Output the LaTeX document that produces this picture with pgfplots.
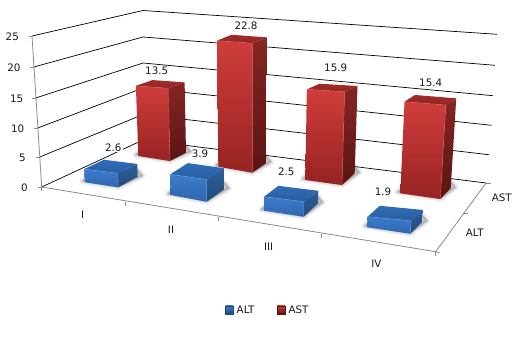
\documentclass[border=0pt]{standalone}
\usepackage{fontspec}
\setmainfont{DejaVu Sans}
\usepackage{pgfplots}
\pgfplotsset{compat=1.18}
\definecolor{grid}{HTML}{5E93DA}
\definecolor{axisc}{HTML}{8A8A8A}
\definecolor{redF}{HTML}{CF3D3B}\definecolor{redFb}{HTML}{962322}
\definecolor{redR}{HTML}{852623}\definecolor{redRb}{HTML}{5A1413}
\definecolor{redT}{HTML}{A52C29}\definecolor{redTb}{HTML}{8C2624}
\definecolor{redE}{HTML}{DA5552}
\definecolor{bluF}{HTML}{3D7DCC}\definecolor{bluFb}{HTML}{2F65AE}
\definecolor{bluR}{HTML}{2C5F9D}\definecolor{bluRb}{HTML}{214A7C}
\definecolor{bluT}{HTML}{2F6CB8}\definecolor{bluTb}{HTML}{2A5E9F}
\definecolor{bluE}{HTML}{5C97DE}
\newcommand\Poly[2]{\edef\polytmp{\noexpand\addplot[#1] coordinates {#2} --cycle;}\polytmp}
\newcommand\Seg[2]{\edef\polytmp{\noexpand\addplot[#1] coordinates {#2};}\polytmp}
% lean of the verticals: they converge on a point far below the chart
\newcommand\Lift[5]{% x, y, k -> #4 #5 : top of the bar at that corner for value \val
  \pgfmathsetmacro#4{#1+(#1-250)/3260*\val*#3}%
  \pgfmathsetmacro#5{#2-\val*#3}}
\newcommand\Bar[2]{\def\col{#1}\def\val{#2}\BarB}
% base corners front-left, front-right, back-right, each x, y, pixels per unit
\newcommand\BarB[9]{%
  \Lift{#1}{#2}{#3}\ax\ay
  \Lift{#4}{#5}{#6}\bx\by
  \Lift{#7}{#8}{#9}\cx\cy
  \pgfmathsetmacro\dx{\ax+\cx-\bx}\pgfmathsetmacro\dy{\ay+\cy-\by}%
  % shadow on the floor
  \pgfmathsetmacro\sax{#1-3}\pgfmathsetmacro\say{#2-1}%
  \pgfmathsetmacro\sbx{#4}\pgfmathsetmacro\sby{#5}%
  \pgfmathsetmacro\scx{#7+5}\pgfmathsetmacro\scy{#8-1}%
  \pgfmathsetmacro\sdx{#7}\pgfmathsetmacro\sdy{#8-7}%
  \pgfmathsetmacro\sex{#1+2}\pgfmathsetmacro\sey{#2-6}%
  \def\shadowpts{(\sax,\say)(\sbx,\sby)(\scx,\scy)(\sdx,\sdy)(\sex,\sey)}%
  \Poly{draw=black,fill=black,line join=round,line width=7pt,draw opacity=.018,fill opacity=.018}{\shadowpts}%
  \Poly{draw=black,fill=black,line join=round,line width=5.5pt,draw opacity=.03,fill opacity=.03}{\shadowpts}%
  \Poly{draw=black,fill=black,line join=round,line width=4pt,draw opacity=.04,fill opacity=.04}{\shadowpts}%
  \Poly{draw=black,fill=black,line join=round,line width=2.5pt,draw opacity=.05,fill opacity=.05}{\shadowpts}%
  \Poly{draw=black,fill=black,line join=round,line width=1pt,draw opacity=.06,fill opacity=.06}{\shadowpts}%
  % faces
  \Poly{draw=none,top color=\col R,bottom color=\col Rb}{(\bx,\by)(\cx,\cy)(#7,#8)(#4,#5)}%
  \Poly{draw=none,top color=\col T,bottom color=\col Tb}{(\ax,\ay)(\dx,\dy)(\cx,\cy)(\bx,\by)}%
  \Poly{draw=none,top color=\col F,bottom color=\col Fb}{(\ax,\ay)(\bx,\by)(#4,#5)(#1,#2)}%
  \Seg{\col E,line width=.6pt,opacity=.7}{(\ax,\ay)(\bx,\by)(#4,#5)}%
}
\newcommand\Lab[3]{\node[inner sep=0pt,font=\fontsize{10.3}{12}\selectfont,text=black!90] at (axis cs:#1,#2) {#3};}
\newcommand\DLab[3]{\node[inner xsep=1.5pt,inner ysep=1pt,fill=white,font=\fontsize{10.3}{12}\selectfont,text=black!90] at (axis cs:#1,#2) {#3};}
\begin{document}
\begin{tikzpicture}
\begin{axis}[
  width=526pt,height=340pt,scale only axis,
  xmin=0,xmax=526,ymin=0,ymax=340,y dir=reverse,
  axis lines=none,clip=false,no markers]
\path (axis cs:0,0) rectangle (axis cs:526,340);
% gridlines: value 0 to 25 on the side and back walls
\addplot[grid,line width=.7pt] coordinates {(41.7,187)(143,140)(486,183)};
\addplot[grid,line width=.7pt] coordinates {(39.7,157)(143,114.5)(489,154.7)};
\addplot[grid,line width=.7pt] coordinates {(37.7,128)(143,88)(491.5,125.3)};
\addplot[grid,line width=.7pt] coordinates {(35.7,98)(143,63)(493,95.7)};
\addplot[grid,line width=.7pt] coordinates {(33.7,67)(143,37)(495,65.3)};
\addplot[grid,line width=.7pt] coordinates {(32,36)(143,10.5)(497,34.3)};
% axes
\addplot[axisc,line width=.8pt] coordinates {(32,36)(41.7,187)(435.7,251.7)(486,183)};
\addplot[axisc,line width=.7pt] coordinates {(28.5,36)(32,36)};
\addplot[axisc,line width=.7pt] coordinates {(30.2,67)(33.7,67)};
\addplot[axisc,line width=.7pt] coordinates {(32.2,98)(35.7,98)};
\addplot[axisc,line width=.7pt] coordinates {(34.2,128)(37.7,128)};
\addplot[axisc,line width=.7pt] coordinates {(36.2,157)(39.7,157)};
\addplot[axisc,line width=.7pt] coordinates {(38.2,187)(41.7,187)};
\addplot[axisc,line width=.7pt] coordinates {(41.7,187)(41.7,191)};
\addplot[axisc,line width=.7pt] coordinates {(125.7,201.5)(125.7,205.5)};
\addplot[axisc,line width=.7pt] coordinates {(218.3,216.5)(218.3,220.5)};
\addplot[axisc,line width=.7pt] coordinates {(321.7,233.5)(321.7,237.5)};
\addplot[axisc,line width=.7pt] coordinates {(435.7,251.7)(435.7,255.7)};
\addplot[axisc,line width=.7pt] coordinates {(435.7,251.7)(439.7,252.7)};
\addplot[axisc,line width=.7pt] coordinates {(463,213.5)(467.5,213.5)};
\addplot[axisc,line width=.7pt] coordinates {(486,183)(491,183)};
% value and tick labels
\Lab{12.3}{36.7}{25}\Lab{14}{68}{20}\Lab{16.7}{99}{15}\Lab{17.7}{129}{10}\Lab{22.3}{158}{5}\Lab{24.3}{188}{0}
\Lab{82.7}{215}{I}\Lab{171}{230}{II}\Lab{268.7}{247}{III}\Lab{376.3}{264}{IV}
\Lab{474.7}{233}{ALT}\Lab{501.7}{197.7}{AST}
\DLab{156.7}{70.7}{13.5}\DLab{246}{26}{22.8}\DLab{335.7}{67.7}{15.9}\DLab{430.7}{83}{15.4}
\DLab{113.3}{147.3}{2.6}\DLab{200}{154}{3.9}\DLab{286.3}{171.3}{2.5}\DLab{383}{192}{1.9}
% AST bars, back row
\Bar{red}{13.5}{138.3}{156}{5.19}{170}{161}{5.39}{186}{152.7}{5.21}
\Bar{red}{22.8}{218.3}{166.7}{5.53}{252.3}{172.7}{5.68}{266.3}{163}{5.51}
\Bar{red}{15.9}{305.3}{180}{5.70}{342}{185}{5.87}{354.7}{173.3}{5.49}
\Bar{red}{15.4}{400.3}{193.3}{5.95}{440.3}{199}{6.10}{450.7}{188.3}{5.84}
% ALT bars, front row
\Bar{blu}{2.6}{85}{182.3}{5.1}{118.3}{187.3}{5.38}{137.7}{176.7}{4.9}
\Bar{blu}{3.9}{170.7}{195}{5.3}{206.7}{201.7}{5.7}{224.3}{189.3}{5.4}
\Bar{blu}{2.5}{264}{210.7}{5.6}{303.7}{216.7}{6}{318}{203.3}{5}
\Bar{blu}{1.9}{367.3}{227.3}{5.6}{410.3}{233.7}{6.8}{422.3}{221.7}{6.2}
% legend
\Poly{draw=bluRb,line width=.4pt,top color=bluF,bottom color=bluRb}{(225.3,305.7)(233.2,305.7)(233.2,313.7)(225.3,313.7)}
\Poly{draw=redRb,line width=.4pt,top color=redF,bottom color=redRb}{(277.2,305.7)(285.1,305.7)(285.1,313.7)(277.2,313.7)}
\node[anchor=west,inner sep=0pt,font=\fontsize{10.3}{12}\selectfont,text=black!90] at (axis cs:236.5,310) {ALT};
\node[anchor=west,inner sep=0pt,font=\fontsize{10.3}{12}\selectfont,text=black!90] at (axis cs:288.3,310) {AST};
\end{axis}
\path (0,0) rectangle (526pt,340pt);
\end{tikzpicture}
\end{document}
